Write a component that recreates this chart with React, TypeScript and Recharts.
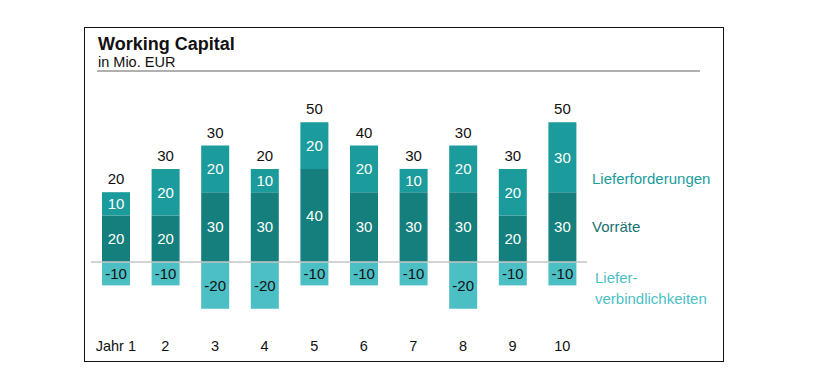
import { Bar, ComposedChart, LabelList, ReferenceLine, XAxis, YAxis } from "recharts";

const years = ["Jahr 1", "2", "3", "4", "5", "6", "7", "8", "9", "10"];
const vorraete = [20, 20, 30, 30, 40, 30, 30, 30, 20, 30];
const forderungen = [10, 20, 20, 10, 20, 20, 10, 20, 20, 30];
const verbindlichkeiten = [-10, -10, -20, -20, -10, -10, -10, -20, -10, -10];
const totals = [20, 30, 30, 20, 50, 40, 30, 30, 30, 50];

const C_FORD = "#1b9b9b";
const C_VORR = "#147f7c";
const C_VERB = "#4cbfc5";
const FONT = "'Liberation Sans', Arial, sans-serif";

const data = years.map((y, i) => ({
  year: y,
  vorraete: vorraete[i],
  forderungen: forderungen[i],
  verbindlichkeiten: verbindlichkeiten[i],
  total: totals[i],
}));

const abs = (extra: React.CSSProperties): React.CSSProperties => ({
  position: "absolute",
  fontFamily: FONT,
  whiteSpace: "nowrap",
  ...extra,
});

export default function App() {
  return (
    <div style={{ position: "absolute", left: 0, top: 0, width: 820, height: 390, background: "#fff", fontFamily: FONT }}>
      <div style={{ position: "absolute", left: 84, top: 27, width: 638, height: 333, border: "1.5px solid #111" }} />
      <div style={abs({ left: 98, top: 34, fontSize: 18, fontWeight: "bold", color: "#111" })}>Working Capital</div>
      <div style={abs({ left: 98, top: 54, fontSize: 14.5, color: "#111" })}>in Mio. EUR</div>
      <div style={{ position: "absolute", left: 97, top: 70, width: 603, height: 2, background: "#b0b0b0" }} />

      <ComposedChart
        width={820}
        height={390}
        data={data}
        stackOffset="sign"
        margin={{ top: 99, right: 233, left: 91, bottom: 28 }}
        style={{ position: "absolute", left: 0, top: 0 }}
      >
        <XAxis
          dataKey="year"
          height={30}
          axisLine={false}
          tickLine={false}
          interval={0}
          tick={{ fontSize: 14.5, fill: "#111", fontFamily: FONT }}
          tickMargin={3}
        />
        <YAxis hide domain={[-30, 70]} />
        <Bar dataKey="vorraete" stackId="a" fill={C_VORR} barSize={28} isAnimationActive={false}>
          <LabelList dataKey="vorraete" position="center" fill="#fff" fontSize={15} fontFamily={FONT} />
        </Bar>
        <Bar dataKey="forderungen" stackId="a" fill={C_FORD} barSize={28} isAnimationActive={false}>
          <LabelList dataKey="forderungen" position="center" fill="#fff" fontSize={15} fontFamily={FONT} />
          <LabelList dataKey="total" position="top" offset={8} fill="#111" fontSize={15} fontFamily={FONT} />
        </Bar>
        <Bar dataKey="verbindlichkeiten" stackId="a" fill={C_VERB} barSize={28} isAnimationActive={false}>
          <LabelList dataKey="verbindlichkeiten" position="center" fill="#111" fontSize={15} fontFamily={FONT} />
        </Bar>
        <ReferenceLine y={0} stroke="#c4c4c4" strokeWidth={1.5} />
      </ComposedChart>

      <div style={abs({ left: 592, top: 170, fontSize: 15, color: C_FORD })}>Lieferforderungen</div>
      <div style={abs({ left: 592, top: 218, fontSize: 15, color: "#17716e" })}>Vorräte</div>
      <div style={abs({ left: 595, top: 267, fontSize: 15, color: C_VERB, lineHeight: "21px" })}>
        Liefer-
        <br />
        verbindlichkeiten
      </div>
    </div>
  );
}
